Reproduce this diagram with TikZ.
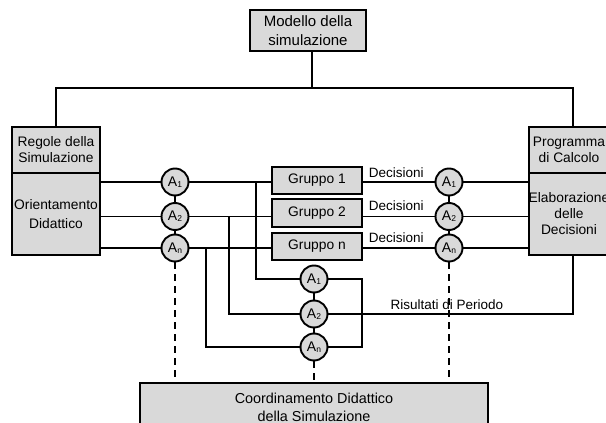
\documentclass[tikz,border=0pt]{standalone}
\usepackage{fontspec}
\setmainfont{Liberation Sans}
\usepackage{tikz}

\definecolor{boxgray}{RGB}{217,217,217}
\newcommand{\asub}[1]{A\raisebox{-1.3pt}{\fontsize{8.5}{8.5}\selectfont #1}}

\begin{document}
\begin{tikzpicture}[
    x=1pt, y=-1pt,
    line width=1.9pt,
    box/.style={rectangle, draw, fill=boxgray, inner sep=0pt, align=center, font=\fontsize{13.8}{16}\selectfont},
    agent/.style={circle, draw, fill=boxgray, minimum size=27pt, inner sep=0pt, font=\fontsize{14}{14}\selectfont},
    lbl/.style={inner sep=0pt, font=\fontsize{13.5}{16}\selectfont},
    link/.style={dash pattern=on 7pt off 5pt} % tratteggio
]
    \useasboundingbox (0,0) rectangle (606,423);

    \node[box, minimum width=116pt, minimum height=41pt, font=\fontsize{15}{19}\selectfont] (modello) at (308, 30.5) {Modello della\\simulazione};
    \node[box, minimum width=88pt, minimum height=46pt] (regole) at (56, 150) {Regole della\\Simulazione};
    \node[box, minimum width=88pt, minimum height=82pt, font=\fontsize{13.8}{18.5}\selectfont] (orient) at (56, 214) {Orientamento\\Didattico};
    \node[box, minimum width=80pt, minimum height=46pt] (programma) at (569, 150) {Programma\\di Calcolo};
    \node[box, minimum width=80pt, minimum height=82pt] (elab) at (569, 214) {Elaborazione\\delle\\Decisioni};

    \node[agent] (la1) at (175, 182) {\asub{1}};
    \node[agent] (la2) at (175, 216.5) {\asub{2}};
    \node[agent] (la3) at (175, 248) {\asub{n}};
    \node[agent] (ra1) at (449, 182) {\asub{1}};
    \node[agent] (ra2) at (449, 216.5) {\asub{2}};
    \node[agent] (ra3) at (449, 248) {\asub{n}};

    \node[box, minimum width=90pt, minimum height=27.5pt] (g1) at (317, 180.5) {Gruppo 1};
    \node[box, minimum width=90pt, minimum height=27.5pt] (g2) at (317, 213) {Gruppo 2};
    \node[box, minimum width=90pt, minimum height=27.5pt] (g3) at (317, 246.5) {Gruppo n};
    \node[lbl, anchor=west] (d1) at (368, 173) {Decisioni};
    \node[lbl, anchor=west] (d2) at (368, 206) {Decisioni};
    \node[lbl, anchor=west] (d3) at (368, 238) {Decisioni};

    \node[agent] (ba1) at (314, 279) {\asub{1}};
    \node[agent] (ba2) at (314, 314) {\asub{2}};
    \node[agent] (ba3) at (314, 347) {\asub{n}};
    \node[lbl] (ris) at (447, 305) {Risultati di Periodo};

    \node[box, minimum width=348pt, minimum height=48pt, font=\fontsize{14.4}{18}\selectfont] (coord) at (314, 407) {Coordinamento Didattico\\della Simulazione};

    % albero in alto
    \coordinate (split) at (312, 88);
    \coordinate (rdrop) at (573, 88);
    \draw (modello.south -| split) -- (split);
    \draw (regole.north) |- (split) -- (rdrop) -- (rdrop |- programma.north);

    % righe dei gruppi
    \draw (orient.east |- la1) -- (la1) -- (la1 -| g1.west);
    \draw (orient.east |- la2) -- (la2) -- (la2 -| g2.west);
    \draw (orient.east |- la3) -- (la3) -- (la3 -| g3.west);
    \draw (g1.east |- ra1) -- (ra1) -- (ra1 -| elab.west);
    \draw (g2.east |- ra2) -- (ra2) -- (ra2 -| elab.west);
    \draw (g3.east |- ra3) -- (ra3) -- (ra3 -| elab.west);
    \draw (la1) -- (la2) -- (la3);
    \draw (ra1) -- (ra2) -- (ra3);
    \draw (ba1) -- (ba2) -- (ba3);

    % risultati di periodo
    \coordinate (j1) at (256, 182);
    \coordinate (j2) at (229, 216.5);
    \coordinate (j3) at (206, 248);
    \coordinate (back) at (362, 300);
    \draw (j1) |- (ba1);
    \draw (j2) |- (ba2);
    \draw (j3) |- (ba3);
    \draw (ba1) -- (ba1 -| back) |- (ba3);
    \draw (ba2) -| (rdrop |- elab.south);

    % coordinamento
    \draw[link] (la3) -- (la3 |- coord.north);
    \draw[link] (ra3) -- (ra3 |- coord.north);
    \draw[link] (ba3) -- (ba3 |- coord.north);
\end{tikzpicture}
\end{document}
